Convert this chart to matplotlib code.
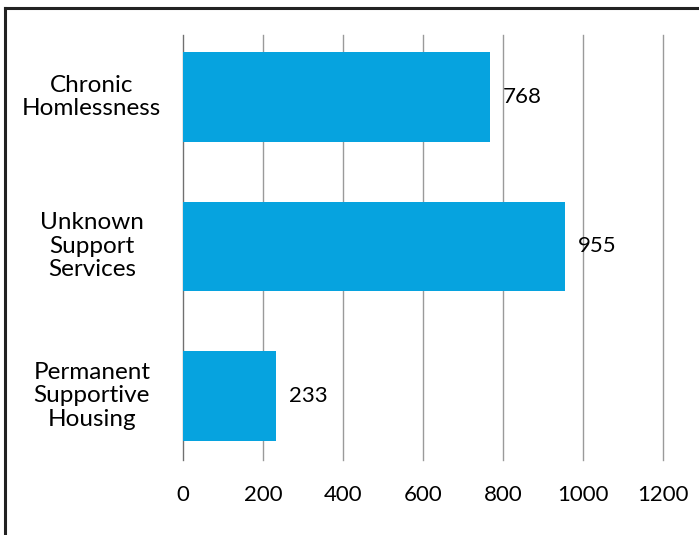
import matplotlib.pyplot as plt
from matplotlib.lines import Line2D

# bar chart of counts by category
categories = ['Chronic\nHomlessness', 'Unknown\nSupport\nServices', 'Permanent\nSupportive\nHousing']
counts = [768, 955, 233]
xticks = [0, 200, 400, 600, 800, 1000, 1200]

plt.rcParams['font.family'] = ['Lato', 'DejaVu Sans']

fig = plt.figure(figsize=(6.99, 5.35), dpi=100)
ax = fig.add_axes([0.2618, 0.1402, 0.6867, 0.7944])

pos = list(range(len(categories)))
ax.barh(pos, counts, height=0.6, color='#06a3df', zorder=3)

ax.set_xlim(0, 1200)
ax.set_ylim(2.43, -0.415)
ax.set_xticks(xticks)
ax.set_xticklabels([str(t) for t in xticks], fontsize=16)
ax.tick_params(axis='x', length=0, pad=18)
ax.set_yticks([])
ax.grid(axis='x', color='#9a9a9a', linewidth=1, zorder=1)
for gl in ax.get_xgridlines():
    gl.set_clip_on(False)
for s in ['top', 'right', 'bottom']:
    ax.spines[s].set_visible(False)
ax.spines['left'].set_color('#707070')

for p, c in zip(pos, counts):
    ax.text(c + 32, p, str(c), va='center', ha='left', fontsize=16, zorder=4)

for p, lab in zip(pos, categories):
    ax.text(-228, p, lab, va='center', ha='center', fontsize=17.5,
            linespacing=1.15, clip_on=False)

# frame around the figure (top and left edges)
fig.add_artist(Line2D([0.007, 1.0], [0.985, 0.985], transform=fig.transFigure,
                      color='#222222', linewidth=2.2))
fig.add_artist(Line2D([0.007, 0.007], [0.0, 0.985], transform=fig.transFigure,
                      color='#222222', linewidth=2.2))

fig.savefig('out.png', dpi=100)
